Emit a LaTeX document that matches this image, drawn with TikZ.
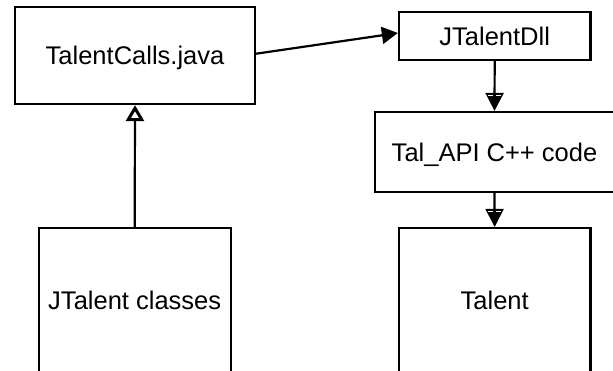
\documentclass[tikz,border=0pt]{standalone}
\usepackage{fontspec}
\setmainfont{Liberation Sans}
\usetikzlibrary{arrows.meta}
\begin{document}
\begin{tikzpicture}[x=1pt,y=-1pt,
  box/.style={draw=black, line width=2.2pt, inner sep=0pt, align=center,
    font=\fontsize{25.5}{30}\selectfont, text height=18.3pt, text depth=0pt},
  conn/.style={draw=black, line width=2.2pt},
  filledhead/.style={-{Triangle[length=18pt,width=18pt]}},
  openhead/.style={-{Triangle[open,length=16pt,width=18pt,line width=3pt]}},
  gap/.style={draw=white, line width=1pt}]
\useasboundingbox (0,0) rectangle (613,370);
\clip (0,0) rectangle (613,370);
\node[box, minimum width=240pt, minimum height=96.7pt] (tc) at (135,55.7) {TalentCalls.java};
\node[box, minimum width=191.5pt, minimum height=48pt] (dll) at (494.7,36) {JTalentDll};
\node[box, minimum width=239pt, minimum height=80pt] (api) at (494.5,152) {Tal\_API C++ code};
\node[box, minimum width=192pt, minimum height=144pt] (jc) at (134.7,300) {JTalent classes};
\node[box, minimum width=191.5pt, minimum height=144pt] (tal) at (494.7,300) {Talent};
% connectors
\draw[conn, -{Triangle[length=16pt,width=17pt]}] ([yshift=2pt]tc.east) -- ([yshift=3pt]dll.west);
\draw[conn, openhead] (jc.north) -- (tc.south);
\draw[conn, filledhead] (dll.south) -- (api.north);
\draw[conn, filledhead] (api.south) -- (tal.north);
% thin light stripes inside the filled heads
\draw[gap] ([shift={(-6.5pt,15.5pt)}]api.north) -- ([shift={(-1.5pt,15.5pt)}]api.north);
\draw[gap] ([shift={(1.5pt,15.5pt)}]api.north) -- ([shift={(6.5pt,15.5pt)}]api.north);
\draw[gap] ([shift={(-6.5pt,15.5pt)}]tal.north) -- ([shift={(-1.5pt,15.5pt)}]tal.north);
\draw[gap] ([shift={(1.5pt,15.5pt)}]tal.north) -- ([shift={(6.5pt,15.5pt)}]tal.north);
\end{tikzpicture}
\end{document}
